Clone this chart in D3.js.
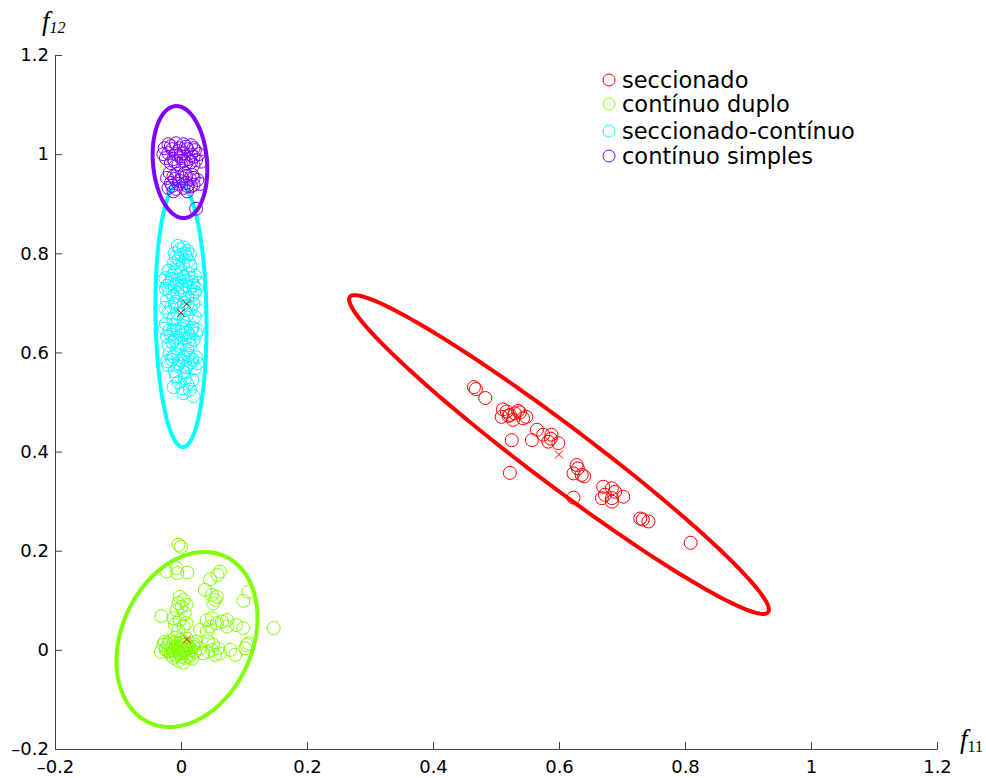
<!DOCTYPE html>
<html>
<head>
<meta charset="utf-8">
<script src="https://cdn.jsdelivr.net/npm/d3@7"></script>
<style>
  body { margin: 0; background: #fff; }
  text { font-family: "DejaVu Sans", sans-serif; }
</style>
</head>
<body>
<svg id="chart"></svg>
<script>
// class names and colours
const classes = ["seccionado", "contínuo duplo", "seccionado-contínuo", "contínuo simples"];
const classColors = ["#ff0000", "#80ff00", "#00ffff", "#8000ff"];

const xTicks = [-0.2, 0, 0.2, 0.4, 0.6, 0.8, 1, 1.2];
const yTicks = [-0.2, 0, 0.2, 0.4, 0.6, 0.8, 1, 1.2];

// samples (f11, f12) for each class
const seccionado = [
  [0.465,0.530],[0.468,0.526],[0.483,0.508],[0.511,0.485],[0.517,0.481],[0.522,0.474],
  [0.509,0.470],[0.530,0.477],[0.538,0.479],[0.527,0.464],[0.543,0.467],[0.520,0.472],
  [0.525,0.423],[0.565,0.444],[0.557,0.423],[0.575,0.434],[0.588,0.434],[0.583,0.420],
  [0.599,0.417],[0.522,0.357],[0.628,0.373],[0.630,0.366],[0.623,0.356],[0.636,0.353],
  [0.640,0.350],[0.623,0.307],[0.670,0.329],[0.684,0.326],[0.689,0.319],[0.673,0.313],
  [0.684,0.306],[0.702,0.309],[0.668,0.306],[0.684,0.299],[0.729,0.265],[0.733,0.263],
  [0.742,0.259],[0.809,0.216],[0.535,0.482],[0.548,0.470],[0.587,0.426]
];
const continuoDuplo = [
  [-0.004,0.212],[0.000,0.208],[-0.023,0.158],[-0.007,0.165],[-0.006,0.155],[0.010,0.156],
  [0.062,0.158],[0.058,0.151],[0.046,0.142],[0.038,0.121],[0.107,0.117],[0.099,0.099],
  [0.049,0.111],[0.054,0.101],[0.057,0.107],[0.051,0.094],[-0.002,0.107],[0.004,0.101],
  [-0.004,0.094],[0.001,0.087],[0.009,0.091],[-0.007,0.080],[0.006,0.074],[-0.031,0.068],
  [-0.012,0.064],[-0.002,0.060],[-0.010,0.050],[0.004,0.047],[-0.004,0.040],[0.009,0.054],
  [0.041,0.060],[0.049,0.064],[0.057,0.054],[0.065,0.057],[0.073,0.060],[0.073,0.047],
  [0.088,0.050],[0.099,0.044],[0.046,0.047],[0.041,0.037],[0.030,0.040],[0.147,0.044],
  [0.043,0.017],[0.051,0.010],[0.049,0.000],[0.059,0.003],[0.062,-0.007],[0.043,-0.004],
  [0.054,-0.010],[0.078,0.000],[0.086,-0.010],[0.104,0.010],[0.102,0.003],[0.107,0.013],
  [0.030,0.003],[0.035,-0.007],
  [-0.028,0.010],[-0.020,0.012],[-0.012,0.014],[-0.004,0.012],[0.004,0.010],[0.012,0.008],
  [0.020,0.006],[-0.024,0.004],[-0.016,0.005],[-0.008,0.006],[0.000,0.004],[0.008,0.002],
  [0.016,0.000],[-0.020,-0.003],[-0.012,-0.002],[-0.004,-0.004],[0.004,-0.006],[0.012,-0.008],
  [0.022,-0.004],[-0.016,-0.010],[-0.008,-0.012],[0.000,-0.014],[0.008,-0.016],[-0.004,-0.022],
  [0.004,-0.026],[0.000,0.020],[-0.010,0.024],[0.010,0.022],[0.024,0.016],[-0.032,-0.004],
  [0.018,-0.018],
  [-0.024,0.000],[-0.010,0.000],[0.006,-0.002],[0.014,0.004],[-0.018,0.018],[0.004,0.016],
  [-0.012,-0.016],[0.012,-0.014],[-0.026,0.016],[0.020,0.012],[-0.002,-0.008],[-0.006,0.002],
  [0.008,0.012]
];
const seccionadoContinuo = [
  [-0.005,0.815],[0.004,0.812],[0.010,0.805],[-0.010,0.800],[0.000,0.797],[0.008,0.793],
  [-0.004,0.788],[0.012,0.785],[-0.012,0.780],[0.003,0.778],[0.015,0.775],[-0.006,0.772],
  [0.006,0.800],[-0.002,0.808],[0.014,0.798],[-0.008,0.792],
  [-0.020,0.765],[-0.010,0.762],[0.000,0.760],[0.012,0.758],[0.022,0.755],[-0.025,0.750],
  [-0.015,0.748],[-0.003,0.746],[0.008,0.745],[0.018,0.742],[0.028,0.740],[-0.022,0.735],
  [-0.010,0.733],[0.002,0.732],[0.014,0.730],[0.025,0.728],[-0.018,0.722],[-0.006,0.720],
  [0.006,0.718],[0.018,0.716],[-0.012,0.712],[0.010,0.710],
  [-0.028,0.745],[-0.018,0.740],[-0.006,0.738],[0.006,0.736],[0.020,0.735],[-0.014,0.755],
  [0.004,0.752],[0.016,0.750],[-0.024,0.728],[0.000,0.725],[0.022,0.722],
  [-0.022,0.705],[-0.008,0.703],[0.005,0.700],[0.020,0.698],[-0.015,0.692],[0.000,0.690],
  [0.015,0.688],[0.028,0.685],[-0.020,0.680],[-0.005,0.678],[0.010,0.676],[0.022,0.672],
  [-0.012,0.668],[0.004,0.665],[-0.010,0.698],[0.010,0.695],[-0.025,0.690],[0.006,0.685],
  [-0.024,0.658],[-0.010,0.655],[0.004,0.653],[0.018,0.650],[-0.018,0.645],[-0.004,0.643],
  [0.010,0.640],[0.024,0.638],[-0.022,0.632],[-0.008,0.630],[0.006,0.628],[0.020,0.625],
  [-0.014,0.620],[0.000,0.618],[0.014,0.615],[-0.006,0.608],[0.010,0.605],
  [-0.026,0.648],[-0.012,0.646],[0.002,0.648],[0.016,0.644],[0.026,0.645],[-0.016,0.636],
  [0.000,0.635],[0.014,0.633],[-0.010,0.625],[0.012,0.622],[-0.020,0.615],
  [-0.018,0.598],[-0.004,0.596],[0.012,0.594],[0.024,0.590],[-0.014,0.585],[0.002,0.583],
  [0.016,0.580],[-0.020,0.575],[-0.006,0.573],[0.008,0.570],[0.022,0.568],[-0.010,0.562],
  [0.005,0.560],[-0.012,0.592],[0.004,0.590],[0.018,0.586],[-0.022,0.582],[-0.004,0.578],
  [0.012,0.576],[0.026,0.578],
  [-0.008,0.552],[0.006,0.548],[0.018,0.545],[-0.004,0.540],[0.010,0.537],[-0.012,0.530],
  [0.002,0.528],[0.014,0.525],[0.004,0.518],[0.020,0.512]
];
const continuoSimples = [
  [-0.020,1.020],[-0.008,1.022],[0.004,1.020],[0.016,1.018],[-0.026,1.012],[-0.014,1.010],
  [-0.002,1.012],[0.010,1.010],[0.022,1.008],[-0.020,1.002],[-0.008,1.000],[0.004,1.002],
  [0.016,0.998],[0.028,1.000],[-0.024,0.992],[-0.012,0.990],[0.000,0.992],[0.012,0.990],
  [0.024,0.988],[-0.016,0.982],[-0.004,0.980],[0.008,0.982],[0.020,0.978],[0.032,0.985],
  [-0.016,1.016],[-0.004,1.006],[0.008,1.015],[0.020,1.012],[-0.028,1.000],[0.000,0.996],
  [0.020,0.995],[-0.010,0.985],[0.004,0.986],[0.016,0.984],
  [-0.018,0.962],[-0.006,0.960],[0.006,0.962],[0.018,0.958],[-0.022,0.952],[-0.010,0.950],
  [0.002,0.952],[0.014,0.950],[0.026,0.948],[-0.016,0.942],[-0.004,0.940],[0.008,0.942],
  [0.020,0.938],[-0.020,0.932],[-0.008,0.930],[0.004,0.932],[0.016,0.935],[0.030,0.940],
  [-0.012,0.955],[0.008,0.955],[0.020,0.952],[-0.002,0.946],[-0.014,0.936],[0.010,0.936],
  [0.024,0.890],[-0.012,0.925],[0.010,0.925]
];
const samples = [seccionado, continuoDuplo, seccionadoContinuo, continuoSimples];

// ellipse of each class: centre and two conjugate half-axes (data units)
const ellipseCenters = [[0.600, 0.394], [0.0095, 0.021], [0.000, 0.675], [-0.0016, 0.984]];
const ellipseAxisU = [[0.332, -0.318], [0.0278, 0.1765], [-0.003, 0.266], [-0.0056, 0.113]];
const ellipseAxisV = [[0.0282, 0.0476], [0.1084, 0.0], [0.0405, 0.0], [0.043, 0.0]];

// class means marked with crosses
const crossPoints = [[0.600, 0.394], [0.0095, 0.021], [0.009, 0.698], [0.000, 0.680]];
const crossColors = ["#ff0000", "#ff0000", "#e00000", "#b00000"];

const width = 986, height = 778;
const margin = { top: 55, right: 49, bottom: 29, left: 55 };

const svg = d3.select("#chart")
              .attr("width", width)
              .attr("height", height);

const x = d3.scaleLinear()
            .domain([-0.2, 1.2])
            .range([margin.left, width - margin.right]);

const y = d3.scaleLinear()
            .domain([-0.2, 1.2])
            .range([height - margin.bottom, margin.top]);

const fmt = v => String(+v.toFixed(1)).replace("-", "\u2013");

// axes (MATLAB style, ticks inside)
const xAxis = svg.append("g")
   .attr("transform", `translate(0, ${height - margin.bottom})`)
   .call(d3.axisBottom(x).tickValues(xTicks).tickSize(-7).tickPadding(11).tickFormat(fmt).tickSizeOuter(0));

const yAxis = svg.append("g")
   .attr("transform", `translate(${margin.left}, 0)`)
   .call(d3.axisLeft(y).tickValues(yTicks).tickSize(-7).tickPadding(6).tickFormat(fmt).tickSizeOuter(0));

[xAxis, yAxis].forEach(g => {
    g.select(".domain").attr("stroke", "#404040");
    g.selectAll(".tick line").attr("stroke", "#404040");
    g.selectAll(".tick text")
     .attr("fill", "#000")
     .style("font-size", "18px")
     .style("font-family", "DejaVu Sans, sans-serif");
});

// points and ellipses
const line = d3.line().x(d => x(d[0])).y(d => y(d[1]));
const tSteps = d3.range(0, 361, 2).map(a => a * Math.PI / 180);

samples.forEach((pts, i) => {
    svg.append("g")
       .selectAll("circle")
       .data(pts)
       .enter()
       .append("circle")
       .attr("cx", d => x(d[0]))
       .attr("cy", d => y(d[1]))
       .attr("r", 6.5)
       .attr("fill", "none")
       .attr("stroke", classColors[i])
       .attr("stroke-width", 1);

    const c = ellipseCenters[i], u = ellipseAxisU[i], v = ellipseAxisV[i];
    const ring = tSteps.map(t => [c[0] + u[0] * Math.cos(t) + v[0] * Math.sin(t),
                                  c[1] + u[1] * Math.cos(t) + v[1] * Math.sin(t)]);
    svg.append("path")
       .attr("d", line(ring))
       .attr("fill", "none")
       .attr("stroke", classColors[i])
       .attr("stroke-width", 4);
});

// crosses
crossPoints.forEach((p, i) => {
    const cx = x(p[0]), cy = y(p[1]), s = 4;
    svg.append("path")
       .attr("d", `M${cx - s},${cy - s}L${cx + s},${cy + s}M${cx - s},${cy + s}L${cx + s},${cy - s}`)
       .attr("stroke", crossColors[i])
       .attr("stroke-width", 1);
});

// axis names
const f12 = svg.append("text").attr("x", 42).attr("y", 30)
               .style("font-family", "Liberation Serif, serif").style("font-style", "italic");
f12.append("tspan").style("font-size", "27px").text("f");
f12.append("tspan").attr("dy", 3).style("font-size", "16px").text("12");

const f11 = svg.append("text").attr("x", 960).attr("y", 748)
               .style("font-family", "Liberation Serif, serif");
f11.append("tspan").style("font-size", "27px").style("font-style", "italic").text("f");
f11.append("tspan").attr("dy", 4).style("font-size", "16px").text("11");

// legend
const legend = svg.append("g")
                  .attr("transform", "translate(609, 80)");

const legendRows = [0, 24, 51, 76];
classes.forEach((name, i) => {
    legend.append("circle")
          .attr("cx", 0)
          .attr("cy", legendRows[i])
          .attr("r", 6)
          .attr("fill", "none")
          .attr("stroke", classColors[i])
          .attr("stroke-width", 1);

    legend.append("text")
          .attr("x", 13)
          .attr("y", legendRows[i])
          .attr("dy", "0.35em")
          .attr("fill", "black")
          .style("font-size", "22.5px")
          .text(name);
});
</script>
</body>
</html>
